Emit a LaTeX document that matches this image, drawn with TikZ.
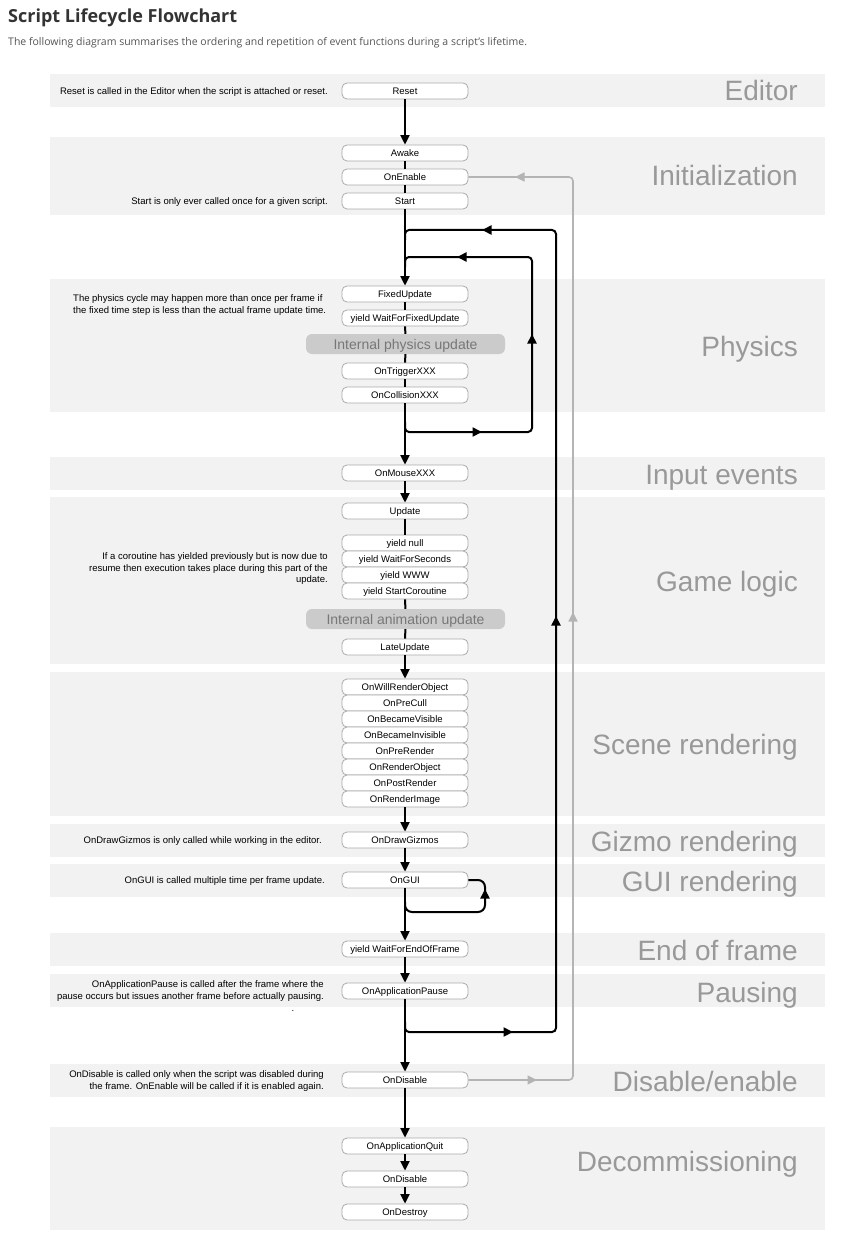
\documentclass[tikz,border=0pt]{standalone}
\usepackage{fontspec}
\newfontfamily\arialf{Liberation Sans}
\newfontfamily\osans{Open Sans}
\usetikzlibrary{arrows.meta}
\definecolor{band}{HTML}{F2F2F2}
\definecolor{boxline}{HTML}{ABABAB}
\definecolor{lbl}{HTML}{999999}
\definecolor{intfill}{HTML}{CBCBCB}
\definecolor{inttext}{HTML}{777777}
\definecolor{graylink}{HTML}{B4B4B4}
\definecolor{titlec}{HTML}{333333}
\definecolor{subc}{HTML}{555555}
\begin{document}
\begin{tikzpicture}[x=1pt,y=-1pt,
 evt/.style={draw=boxline, line width=0.8pt, fill=white, rounded corners=5pt, minimum width=126pt, minimum height=16pt, inner sep=0pt, font=\arialf\fontsize{9.5}{11}\selectfont, text height=6.8pt, text depth=0pt},
 intbox/.style={fill=intfill, rounded corners=6pt, minimum width=199pt, minimum height=20pt, inner sep=0pt, text=inttext, font=\arialf\fontsize{14}{16}\selectfont, text height=10pt, text depth=0pt},
 note/.style={font=\arialf\fontsize{9.5}{11.5}\selectfont, inner sep=0pt},
 sect/.style={anchor=base east, text=lbl, font=\arialf\fontsize{28}{30}\selectfont, inner sep=0pt},
 flow/.style={line width=2pt, draw=black},
 arr/.style={flow, -{Triangle[length=9.5pt,width=9pt]}},
 loopline/.style={flow, rounded corners=4pt},
 glink/.style={line width=1.6pt, draw=graylink, rounded corners=4pt},
 garr/.style={line width=1.6pt, draw=graylink, -{Triangle[length=9.5pt,width=9pt]}},
]
\useasboundingbox (0,0) rectangle (845,1233);
\fill[white] (0,0) rectangle (845,1233);
% title
\node[anchor=base west, inner sep=0pt, text=titlec, font=\osans\bfseries\fontsize{18}{20}\selectfont] (title) at (8,22.5) {Script Lifecycle Flowchart};
\node[anchor=base west, inner sep=0pt, text=subc, font=\osans\fontsize{10.5}{12}\selectfont] (subtitle) at (8,46) {The following diagram summarises the ordering and repetition of event functions during a script’s lifetime.};
% bands
\fill[band] (50,74) rectangle (825,107);
\fill[band] (50,137) rectangle (825,215);
\fill[band] (50,279) rectangle (825,412);
\fill[band] (50,457) rectangle (825,490);
\fill[band] (50,497) rectangle (825,664);
\fill[band] (50,672) rectangle (825,816);
\fill[band] (50,824) rectangle (825,857);
\fill[band] (50,864) rectangle (825,897);
\fill[band] (50,933) rectangle (825,966);
\fill[band] (50,974) rectangle (825,1007);
\fill[band] (50,1064) rectangle (825,1097);
\fill[band] (50,1127) rectangle (825,1230);
% section labels
\node[sect] (lEditor) at (798,101) {Editor};
\node[sect] (lInit) at (798,186) {Initialization};
\node[sect] (lPhys) at (798,356) {Physics};
\node[sect] (lInput) at (798,484) {Input events};
\node[sect] (lGame) at (798,591) {Game logic};
\node[sect] (lScene) at (798,754) {Scene rendering};
\node[sect] (lGizmo) at (798,851) {Gizmo rendering};
\node[sect] (lGUI) at (798,891) {GUI rendering};
\node[sect] (lEnd) at (798,960) {End of frame};
\node[sect] (lPause) at (798,1002) {Pausing};
\node[sect] (lDisable) at (798,1091) {Disable/enable};
\node[sect] (lDecom) at (798,1171) {Decommissioning};
% notes
\node[note, anchor=base east] (nReset) at (328,94.4) {Reset is called in the Editor when the script is attached or reset.};
\node[note, anchor=base east] (nStart) at (328,204.4) {Start is only ever called once for a given script.};
\node[note, anchor=west, align=left] (nPhys) at (73,305) {The physics cycle may happen more than once per frame if\\the fixed time step is less than the actual frame update time.};
\node[note, anchor=east, align=right] (nCo) at (328,569) {If a coroutine has yielded previously but is now due to\\resume then execution takes place during this part of the\\update.};
\node[note, anchor=base east] (nGizmo) at (322,843.4) {OnDrawGizmos is only called while working in the editor.};
\node[note, anchor=base east] (nGUI) at (325,883.4) {OnGUI is called multiple time per frame update.};
\node[note, anchor=east, align=right] (nPause) at (324,991) {OnApplicationPause is called after the frame where the\\pause occurs but issues another frame before actually pausing.};
\node[note, anchor=base] (nDot) at (293,1011) {.};
\node[note, anchor=east, align=right] (nDis) at (324,1081) {OnDisable is called only when the script was disabled during\\the frame. OnEnable will be called if it is enabled again.};
% loops (drawn under the boxes)
\coordinate (oTop) at (405,230);
\coordinate (oTR) at (556,230);
\coordinate (oBR) at (556,1032);
\coordinate (oBot) at (405,1032);
\draw[loopline] (405,1022) -- (oBot) -- (oBR) -- (oTR) -- (oTop) -- (405,240);
\draw[arr] (500,1032) -- (513,1032);
\draw[arr] (556,630) -- (556,616);
\draw[arr] (496,230) -- (482,230);
\coordinate (iTop) at (405,257);
\coordinate (iTR) at (532,257);
\coordinate (iBR) at (532,432);
\coordinate (iBot) at (405,432);
\draw[loopline] (405,422) -- (iBot) -- (iBR) -- (iTR) -- (iTop) -- (405,267);
\draw[arr] (469,432) -- (482,432);
\draw[arr] (532,348) -- (532,334);
\draw[arr] (471,257) -- (457,257);
% nodes
\node[evt] (reset) at (405,91) {Reset};
\node[evt] (awake) at (405,153) {Awake};
\node[evt] (onenable) at (405,177) {OnEnable};
\node[evt] (start) at (405,201) {Start};
\node[evt] (fixed) at (405,294) {FixedUpdate};
\node[evt] (wffu) at (405,318) {yield WaitForFixedUpdate};
\node[intbox] (intphys) at (405.5,344) {Internal physics update};
\node[evt] (trigger) at (405,371) {OnTriggerXXX};
\node[evt] (collision) at (405,395) {OnCollisionXXX};
\node[evt] (mouse) at (405,473) {OnMouseXXX};
\node[evt] (update) at (405,511) {Update};
\node[evt] (ynull) at (405,543) {yield null};
\node[evt] (ywfs) at (405,559) {yield WaitForSeconds};
\node[evt] (ywww) at (405,575) {yield WWW};
\node[evt] (ysc) at (405,591) {yield StartCoroutine};
\node[intbox] (intanim) at (405.5,619) {Internal animation update};
\node[evt] (late) at (405,647) {LateUpdate};
\node[evt] (willrender) at (405,687) {OnWillRenderObject};
\node[evt] (precull) at (405,703) {OnPreCull};
\node[evt] (visible) at (405,719) {OnBecameVisible};
\node[evt] (invisible) at (405,735) {OnBecameInvisible};
\node[evt] (prerender) at (405,751) {OnPreRender};
\node[evt] (renderobj) at (405,767) {OnRenderObject};
\node[evt] (postrender) at (405,783) {OnPostRender};
\node[evt] (renderimg) at (405,799) {OnRenderImage};
\node[evt] (gizmos) at (405,840) {OnDrawGizmos};
\node[evt] (gui) at (405,880) {OnGUI};
\node[evt] (wfeof) at (405,949) {yield WaitForEndOfFrame};
\node[evt] (pause) at (405,991) {OnApplicationPause};
\node[evt] (disable) at (405,1080) {OnDisable};
\node[evt] (quit) at (405,1146) {OnApplicationQuit};
\node[evt] (disable2) at (405,1179) {OnDisable};
\node[evt] (destroy) at (405,1212) {OnDestroy};
% main flow
\draw[arr] (reset) -- (awake);
\draw[flow] (awake) -- (onenable);
\draw[flow] (onenable) -- (start);
\draw[arr] (start) -- (fixed);
\draw[flow] (fixed) -- (wffu);
\draw[flow] (wffu) -- (intphys);
\draw[flow] (intphys) -- (trigger);
\draw[flow] (trigger) -- (collision);
\draw[arr] (collision) -- (mouse);
\draw[arr] (mouse) -- (update);
\draw[flow] (update) -- (ynull);
\draw[flow] (ysc) -- (intanim);
\draw[flow] (intanim) -- (late);
\draw[arr] (late) -- (willrender);
\draw[arr] (renderimg) -- (gizmos);
\draw[arr] (gizmos) -- (gui);
\draw[arr] (gui) -- (wfeof);
\draw[arr] (wfeof) -- (pause);
\draw[arr] (pause) -- (disable);
\draw[arr] (disable) -- (quit);
\draw[arr] (quit) -- (disable2);
\draw[arr] (disable2) -- (destroy);
% OnGUI loop
\coordinate (gBot) at (405,912);
\coordinate (gBR) at (485,912);
\coordinate (gTR) at (485,880);
\draw[flow, rounded corners=7pt] (405,902) -- (gBot) -- (gBR) -- (gTR) -- (gui.east);
\draw[arr] (485,903) -- (485,889);
% disable / enable gray link
\coordinate (eTR) at (573,177);
\coordinate (eBR) at (573,1080);
\draw[glink] (disable.east) -- (eBR) -- (eTR) -- (onenable.east);
\draw[garr] (524,1080) -- (537,1080);
\draw[garr] (573,626) -- (573,612);
\draw[garr] (528,177) -- (515,177);
\end{tikzpicture}
\end{document}
